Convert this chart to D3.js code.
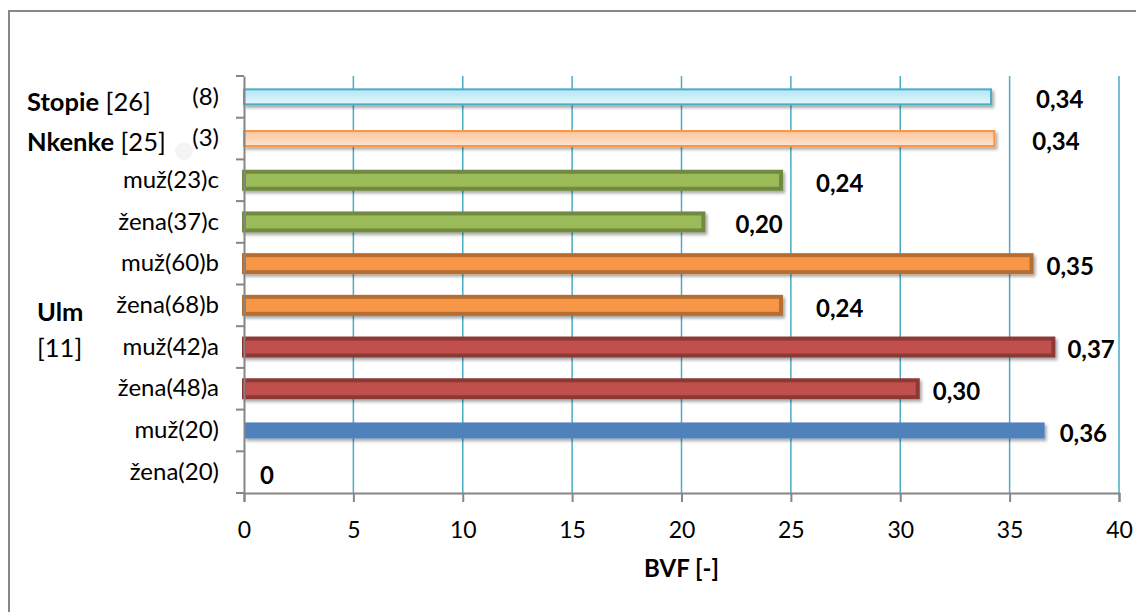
<!DOCTYPE html>
<html><head><meta charset="utf-8">
<script src="https://cdn.jsdelivr.net/npm/d3@7"></script>
<style>html,body{margin:0;padding:0;background:#fff;}svg{display:block;}</style>
</head><body>
<svg id="c" width="1136" height="612"></svg>
<script>
// ---- data (top to bottom) ----
const categories = ["(8)","(3)","muž(23)c","žena(37)c","muž(60)b","žena(68)b","muž(42)a","žena(48)a","muž(20)","žena(20)"];
const values = [34.15, 34.3, 24.55, 21.0, 36.0, 24.55, 37.0, 30.8, 36.6, 0];
const valueLabels = ["0,34","0,34","0,24","0,20","0,35","0,24","0,37","0,30","0,36","0"];
const seriesKey = ["stopie","nkenke","c","c","b","b","a","a","base","base"];
const groupNames = ["Stopie","Nkenke","Ulm"];
const groupRefs = ["[26]","[25]","[11]"];
const xTicks = [0,5,10,15,20,25,30,35,40];
const xTitle = "BVF [-]";

// ---- styles ----
const styles = {
  stopie:{fill:"url(#gCyan)", stroke:"#4bacc6", sw:2, h:15},
  nkenke:{fill:"url(#gPeach)", stroke:"#f79646", sw:2, h:15},
  c:{fill:"#9bbb59", stroke:"#71893f", sw:4, h:17},
  b:{fill:"#f79646", stroke:"#b66d31", sw:4, h:17},
  a:{fill:"#c0504d", stroke:"#8c3836", sw:4, h:17},
  base:{fill:"#4f81bd", stroke:"none", sw:0, h:16}
};
const labelOffsets = [45,38,35,32,15,35,14,15,15,16];
const FONT = "Lato, 'Open Sans', sans-serif";
const FS = 24, FS_TICK = 23, FS_GROUP = 25.5;

const svg = d3.select("#c");
const defs = svg.append("defs");
function grad(id, c1, c2){
  const g = defs.append("linearGradient").attr("id", id).attr("x1",0).attr("y1",0).attr("x2",0).attr("y2",1);
  g.append("stop").attr("offset","0%").attr("stop-color",c1);
  g.append("stop").attr("offset","100%").attr("stop-color",c2);
}
grad("gCyan","#b3e5f5","#e3f7fd");
grad("gPeach","#fbc59a","#fde5d2");
const f = defs.append("filter").attr("id","sh").attr("x","-5%").attr("y","-50%").attr("width","110%").attr("height","200%");
f.append("feDropShadow").attr("dx",2).attr("dy",2.5).attr("stdDeviation",1.8).attr("flood-color","#000").attr("flood-opacity",0.35);

// outer border
svg.append("path").attr("d","M9,612 V11 H1136").attr("fill","none").attr("stroke","#878787").attr("stroke-width",2);

const x = d3.scaleLinear().domain([0,40]).range([244,1119]);
const y = d3.scaleBand().domain(categories).range([76,493]).padding(0);

// gridlines
svg.append("g").selectAll("line").data(xTicks.filter(d=>d>0)).join("line")
  .attr("x1",d=>x(d)).attr("x2",d=>x(d)).attr("y1",76).attr("y2",493)
  .attr("stroke","#4bacc6").attr("stroke-width",1.5);

// bars
svg.append("g").selectAll("rect").data(categories).join("rect")
  .attr("x", x(0))
  .attr("y", (d,i)=> y(d) + y.bandwidth()/2 - styles[seriesKey[i]].h/2)
  .attr("width", (d,i)=> Math.max(0, x(values[i]) - x(0)))
  .attr("height", (d,i)=> styles[seriesKey[i]].h)
  .attr("fill", (d,i)=> styles[seriesKey[i]].fill)
  .attr("stroke", (d,i)=> values[i] > 0 ? styles[seriesKey[i]].stroke : "none")
  .attr("stroke-width", (d,i)=> styles[seriesKey[i]].sw)
  .attr("filter", (d,i)=> values[i] > 0 ? "url(#sh)" : null);

// x axis
const xAxis = svg.append("g").attr("transform","translate(0,493)")
  .call(d3.axisBottom(x).tickValues(xTicks).tickSize(9).tickPadding(20).tickFormat(d3.format("d")));
xAxis.select(".domain").attr("stroke","#868686").attr("stroke-width",2);
xAxis.selectAll(".tick line").attr("stroke","#868686").attr("stroke-width",2);
xAxis.selectAll("text").attr("font-family",FONT).attr("font-size",FS_TICK).attr("fill","#000");

// y axis
const yAxis = svg.append("g").attr("transform","translate(244,0)")
  .call(d3.axisLeft(y).tickSize(0).tickPadding(25));
yAxis.select(".domain").attr("stroke","#868686").attr("stroke-width",2);
yAxis.selectAll("text").attr("font-family",FONT).attr("font-size",FS).attr("fill","#000")
  .attr("dy","0.32em");
// boundary ticks
const bounds = categories.map(c=>y(c)).concat([y(categories[categories.length-1])+y.bandwidth()]);
svg.append("g").selectAll("line").data(bounds).join("line")
  .attr("x1",236).attr("x2",244).attr("y1",d=>d).attr("y2",d=>d)
  .attr("stroke","#868686").attr("stroke-width",2);

// value labels
svg.append("g").selectAll("text").data(valueLabels).join("text")
  .attr("x",(d,i)=> x(values[i]) + labelOffsets[i])
  .attr("y",(d,i)=> y(categories[i]) + y.bandwidth()/2 + 3)
  .attr("dy","0.35em")
  .attr("font-family",FONT).attr("font-size",FS).attr("font-weight","bold").attr("fill","#000")
  .text(d=>d);

// group labels
function groupLabel(name, ref, xp, yp, split){
  const t = svg.append("text").attr("font-family",FONT).attr("font-size",FS_GROUP).attr("fill","#000");
  if(!split){
    t.attr("x",xp).attr("y",yp);
    t.append("tspan").attr("font-weight","bold").text(name);
    t.append("tspan").text(" " + ref);
  } else {
    t.append("tspan").attr("x",xp).attr("y",yp).attr("font-weight","bold").text(name);
    t.append("tspan").attr("x",xp).attr("y",yp+36).text(ref);
  }
}
groupLabel(groupNames[0], groupRefs[0], 27, y(categories[0]) + y.bandwidth()/2 + 14, false);
groupLabel(groupNames[1], groupRefs[1], 27, y(categories[1]) + y.bandwidth()/2 + 12, false);
groupLabel(groupNames[2], groupRefs[2], 37, y(categories[5]) + y.bandwidth()/2 + 16, true);

// faint artifact circle
svg.append("circle").attr("cx",184).attr("cy",151).attr("r",9).attr("fill","#f5f5f5");

// x title
svg.append("text").attr("x", (x(0)+x(40))/2).attr("y",577).attr("text-anchor","middle")
  .attr("font-family",FONT).attr("font-size",FS).attr("font-weight","bold").text(xTitle);
</script>
</body></html>
